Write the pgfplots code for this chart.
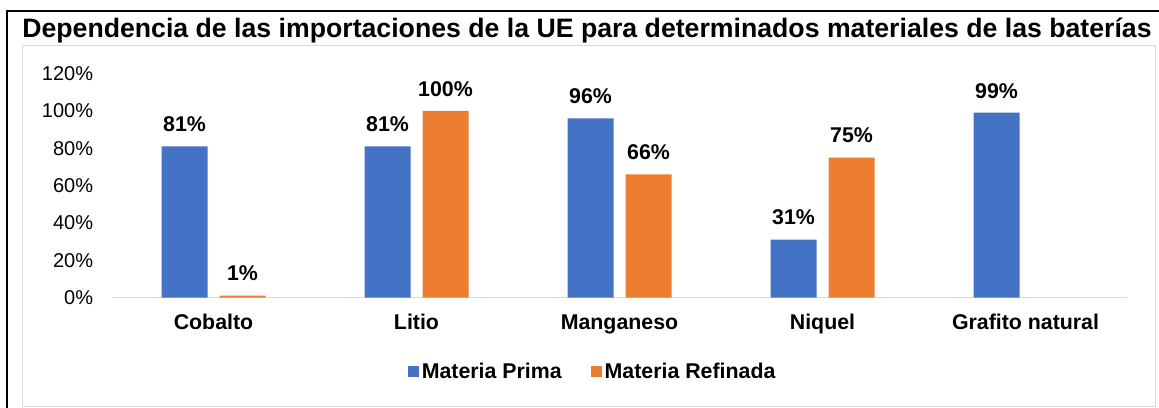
\documentclass[border=0pt]{standalone}
\usepackage{fontspec}
\setmainfont{Liberation Sans}
\usepackage{pgfplots}
\pgfplotsset{compat=1.18}
\definecolor{cblue}{RGB}{68,114,196}
\definecolor{corange}{RGB}{237,125,49}
\definecolor{gridgray}{RGB}{217,217,217}
\begin{document}
\begin{tikzpicture}
\path[use as bounding box] (0,0) rectangle (869.25pt,-305.25pt);
\draw[gridgray, line width=0.75pt] (16.5pt,-33.75pt) rectangle (866.25pt,-304.5pt);
\draw[black, line width=1.5pt] (5.25pt,-306pt) -- (5.25pt,-8.25pt) -- (870pt,-8.25pt);
\node[anchor=base, inner sep=0pt, font=\bfseries\fontsize{20}{24}\selectfont] at (440.25pt,-27.75pt) {Dependencia de las importaciones de la UE para determinados materiales de las baterías};
\begin{axis}[
  at={(84pt,-223.125pt)}, anchor=south west,
  width=761.25pt, height=168pt, scale only axis,
  ybar=9pt, bar width=34.5pt,
  xmin=-0.5, xmax=4.5, ymin=0, ymax=120,
  xtick={0,1,2,3,4},
  xticklabels={Cobalto,Litio,Manganeso,Niquel,Grafito natural},
  ytick={0,20,40,60,80,100,120},
  yticklabels={0\%,20\%,40\%,60\%,80\%,100\%,120\%},
  axis x line*=bottom, axis y line*=left,
  x axis line style={gridgray, line width=1.1pt, -},
  y axis line style={draw=none, -},
  major tick length=0pt,
  tick style={draw=none},
  xticklabel style={font=\bfseries\fontsize{16}{19}\selectfont, anchor=north, inner sep=0pt, yshift=-12.5pt},
  yticklabel style={font=\fontsize{15}{18}\selectfont, anchor=east, inner sep=0pt, xshift=-14pt},
  nodes near coords={\pgfmathprintnumber{\pgfplotspointmeta}\%},
  nodes near coords style={font=\bfseries\fontsize{16}{19}\selectfont, anchor=base, inner sep=0pt, yshift=11pt, /pgf/number format/assume math mode=true},
  legend style={at={(0.474,-0.330)}, anchor=center, legend columns=2, draw=none, fill=none,
    font=\bfseries\fontsize{16}{19}\selectfont,
    nodes={inner sep=2pt},
    /tikz/every even column/.append style={column sep=20pt}},
  legend image code/.code={\fill[#1] (0pt,-4.1pt) rectangle (8.25pt,4.1pt);},
  clip=false,
]
\addplot[fill=cblue, draw=none] coordinates {(0,81) (1,81) (2,96) (3,31) (4,99)};
\addplot[fill=corange, draw=none] coordinates {(0,1) (1,100) (2,66) (3,75)};
\legend{Materia Prima, Materia Refinada}
\end{axis}
\end{tikzpicture}
\end{document}
